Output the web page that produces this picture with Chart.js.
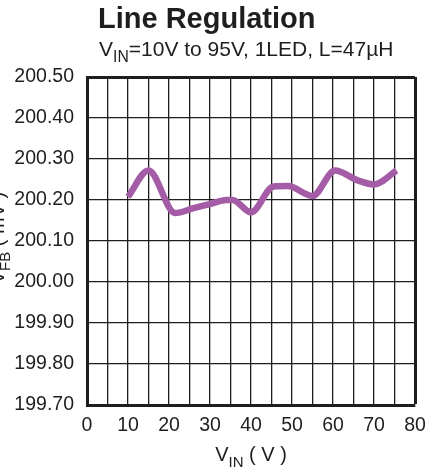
<!DOCTYPE html>
<html>
<head>
<meta charset="utf-8">
<script src="https://cdn.jsdelivr.net/npm/chart.js@4"></script>
<style>
  body { margin: 0; background: #fff; }
</style>
</head>
<body>
<canvas id="chart" width="446" height="470"></canvas>
<script>
// V_IN (V) and V_FB (mV)
const vin = [10, 15, 21.5, 26, 30, 34, 35.5, 40, 45.5, 49, 55, 60.5, 66, 70, 75.5];
const vfb = [200.208, 200.272, 200.168, 200.18, 200.19, 200.2, 200.2, 200.17, 200.233, 200.234, 200.21, 200.272, 200.248, 200.238, 200.272];

const xMin = 0, xMax = 80, xStep = 5;
const yMin = 199.7, yMax = 200.5, yStep = 0.1;

const FONT = "'Liberation Sans', Arial, sans-serif";
const INK = '#1e1e1e';

// draws text pieces, some as subscripts
function drawParts(ctx, parts, x, y, size, align) {
  const sub = size * 0.75;
  let w = 0;
  parts.forEach(p => {
    ctx.font = (p.sub ? sub : size) + 'px ' + FONT;
    w += ctx.measureText(p.t).width;
  });
  let cx = align === 'center' ? x - w / 2 : x;
  ctx.textAlign = 'left';
  ctx.textBaseline = 'alphabetic';
  parts.forEach(p => {
    ctx.font = (p.sub ? sub : size) + 'px ' + FONT;
    ctx.fillText(p.t, cx, p.sub ? y + size * 0.3 : y);
    cx += ctx.measureText(p.t).width;
  });
}

const labelsPlugin = {
  id: 'labels',
  afterDraw(chart) {
    const ctx = chart.ctx;
    ctx.save();
    ctx.fillStyle = INK;
    ctx.font = 'bold 29px ' + FONT;
    ctx.textAlign = 'left';
    ctx.textBaseline = 'alphabetic';
    ctx.fillText('Line Regulation', 98, 28);

    drawParts(ctx, [{t: 'V'}, {t: 'IN', sub: true}, {t: '=10V to 95V, 1LED, L=47µH'}], 99, 56, 21, 'left');

    drawParts(ctx, [{t: 'V'}, {t: 'IN', sub: true}, {t: ' ( V )'}], 251, 461, 20, 'center');

    ctx.translate(4, 238);
    ctx.rotate(-Math.PI / 2);
    drawParts(ctx, [{t: 'V'}, {t: 'FB', sub: true}, {t: ' ( mV )'}], 0, 0, 20, 'center');
    ctx.restore();
  }
};

new Chart(document.getElementById('chart'), {
  type: 'line',
  data: {
    datasets: [{
      data: vin.map((v, i) => ({ x: v, y: vfb[i] })),
      borderColor: '#a55ca6',
      borderWidth: 6.5,
      borderCapStyle: 'butt',
      pointRadius: 0,
      cubicInterpolationMode: 'monotone',
      fill: false
    }]
  },
  options: {
    responsive: false,
    animation: false,
    layout: { padding: { left: 0, top: 77, right: 31, bottom: 0 } },
    plugins: {
      legend: { display: false },
      tooltip: { enabled: false }
    },
    scales: {
      x: {
        type: 'linear',
        min: xMin,
        max: xMax,
        afterFit: s => { s.height = 65; },
        grid: {
          color: INK,
          lineWidth: c => (c.index === 16 ? 3 : 1.3),
          drawTicks: false
        },
        border: { color: INK, width: 3 },
        ticks: {
          stepSize: xStep,
          autoSkip: false,
          maxRotation: 0,
          padding: 9,
          color: INK,
          font: { family: FONT, size: 19.5 },
          callback: v => (v % 10 === 0 ? v : '')
        }
      },
      y: {
        min: yMin,
        max: yMax,
        afterFit: s => { s.width = 87; },
        grid: {
          color: INK,
          lineWidth: c => (c.index === 8 ? 3 : 1.3),
          drawTicks: false
        },
        border: { color: INK, width: 3 },
        ticks: {
          stepSize: yStep,
          padding: 13,
          color: INK,
          font: { family: FONT, size: 19.5 },
          callback: v => Number(v).toFixed(2)
        }
      }
    }
  },
  plugins: [labelsPlugin]
});
</script>
</body>
</html>
